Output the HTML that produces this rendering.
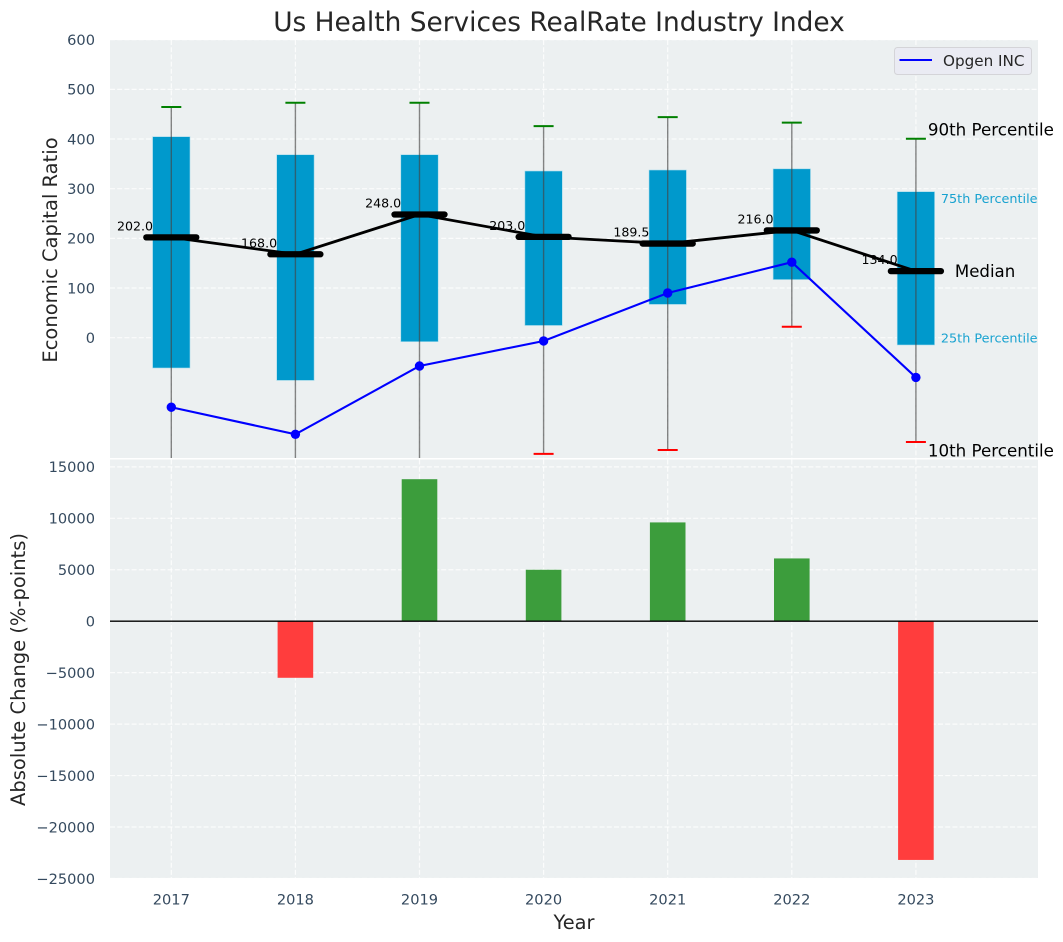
<!DOCTYPE html>
<html lang="en">
<head>
<meta charset="utf-8">
<title>Us Health Services RealRate Industry Index</title>
<style>
html,body{margin:0;padding:0;background:#fff;}
#chart{display:block;width:1063px;height:942px;}
text{font-family:"DejaVu Sans","Liberation Sans",sans-serif;}
</style>
</head>
<body>
<svg id="chart" xmlns="http://www.w3.org/2000/svg" width="1063" height="942" viewBox="0 0 1063 942"></svg>
<script>
const years = [2017, 2018, 2019, 2020, 2021, 2022, 2023];
const p90 = [464.5, 473, 473, 426, 444, 433, 400.6];
const p75 = [404.7, 368.4, 368.4, 335.6, 337.6, 340, 294];
const medians = [202, 168, 248, 203, 189.5, 216, 134];
const p25 = [-61, -86, -8, 24.6, 67, 117, -14.7];
const p10 = [-290, -290, -290, -234, -226, 22, -210];
const opgen = [-140, -194.5, -57, -6.6, 90, 152, -80];
const changes = [0, -5500, 13800, 5000, 9600, 6100, -23200];
const topTicks = [0, 100, 200, 300, 400, 500, 600];
const bottomTicks = [-25000, -20000, -15000, -10000, -5000, 0, 5000, 10000, 15000];

const svg = document.getElementById('chart');
const NS = 'http://www.w3.org/2000/svg';
const LEFT = 110, RIGHT = 1038;
const TOP1 = 40, BOT1 = 458, TOP2 = 459.5, BOT2 = 878;
const x = v => 171.3 + (v - 2017) * 124.1;
const y1 = v => 337.7 - v * 0.4967;
const y2 = v => 621.2 - v * 0.01029;

function el(tag, attrs, parent) {
  const n = document.createElementNS(NS, tag);
  for (const k in attrs) n.setAttribute(k, attrs[k]);
  (parent || svg).appendChild(n);
  return n;
}
function label(txt, attrs, parent) {
  const n = el('text', attrs, parent);
  n.textContent = txt;
  return n;
}

const defs = el('defs', {});
const cp1 = el('clipPath', {id: 'clip-top'}, defs);
el('rect', {x: LEFT, y: TOP1, width: RIGHT - LEFT, height: BOT1 - TOP1}, cp1);
const cp2 = el('clipPath', {id: 'clip-bottom'}, defs);
el('rect', {x: LEFT, y: TOP2, width: RIGHT - LEFT, height: BOT2 - TOP2}, cp2);

const bg1 = el('rect', {x: LEFT, y: TOP1, width: RIGHT - LEFT, height: BOT1 - TOP1, fill: '#ecf0f1'});


const bg2 = el('rect', {x: LEFT, y: TOP2, width: RIGHT - LEFT, height: BOT2 - TOP2, fill: '#ecf0f1'});



const gridStyle = {stroke: '#ffffff', 'stroke-width': 1.2, 'stroke-opacity': 0.8, 'stroke-dasharray': '5 2.2'};

/* upper grid */
const g1 = el('g', {'clip-path': 'url(#clip-top)'});


topTicks.forEach(t => el('line', Object.assign({x1: LEFT, x2: RIGHT, y1: y1(t), y2: y1(t)}, gridStyle), g1));
years.forEach(v => el('line', Object.assign({x1: x(v), x2: x(v), y1: TOP1, y2: BOT1}, gridStyle), g1));

/* lower grid */
const g2 = el('g', {'clip-path': 'url(#clip-bottom)'});


bottomTicks.forEach(t => el('line', Object.assign({x1: LEFT, x2: RIGHT, y1: y2(t), y2: y2(t)}, gridStyle), g2));
years.forEach(v => el('line', Object.assign({x1: x(v), x2: x(v), y1: TOP2, y2: BOT2}, gridStyle), g2));

/* lower bars */
const bars = el('g', {'clip-path': 'url(#clip-bottom)'});


years.forEach((yr, i) => {
  const v = changes[i];
  if (!v) return;
  const yA = y2(Math.max(v, 0)), yB = y2(Math.min(v, 0));
  const r = el('rect', {x: x(yr) - 17.8, width: 35.6, y: yA, height: yB - yA, fill: v >= 0 ? 'rgb(60,157,60)' : 'rgb(255,61,61)'}, bars);
  
  
});
const zero = el('line', {x1: LEFT, x2: RIGHT, y1: y2(0), y2: y2(0), stroke: '#000', 'stroke-width': 1.4});



/* upper marks */
const marks = el('g', {'clip-path': 'url(#clip-top)'});


years.forEach((yr, i) => {
  const cx = x(yr);
  const box = el('rect', {x: cx - 18.7, width: 37.4, y: y1(p75[i]), height: y1(p25[i]) - y1(p75[i]), fill: '#0099cc', stroke: '#a8dcec', 'stroke-width': 0.6}, marks);
  
  
  const wh = el('line', {x1: cx, x2: cx, y1: y1(p90[i]), y2: y1(p10[i]), stroke: '#444', 'stroke-width': 1.4, 'stroke-opacity': 0.65}, marks);
  
  
  const capHi = el('line', {x1: cx - 10, x2: cx + 10, y1: y1(p90[i]), y2: y1(p90[i]), stroke: '#008000', 'stroke-width': 2}, marks);
  
  
  const capLo = el('line', {x1: cx - 10, x2: cx + 10, y1: y1(p10[i]), y2: y1(p10[i]), stroke: '#ff0000', 'stroke-width': 2}, marks);
  
  
});

/* median labels beneath the black line */
years.forEach((yr, i) => {
  const t = label(medians[i].toFixed(1), {x: x(yr) - 18.3, y: y1(medians[i]) - 7, 'text-anchor': 'end', 'font-size': 12.6, fill: '#000'});
  
  
});

/* Opgen line */
const opLine = el('polyline', {points: years.map((yr, i) => x(yr) + ',' + y1(opgen[i])).join(' '), fill: 'none', stroke: '#0000ff', 'stroke-width': 2.1, 'clip-path': 'url(#clip-top)'});


years.forEach((yr, i) => {
  const c = el('circle', {cx: x(yr), cy: y1(opgen[i]), r: 4.7, fill: '#0000ff'});
  
  
});

/* Median line */
const medLine = el('polyline', {points: years.map((yr, i) => x(yr) + ',' + y1(medians[i])).join(' '), fill: 'none', stroke: '#000', 'stroke-width': 2.8});


years.forEach((yr, i) => {
  const m = el('line', {x1: x(yr) - 25, x2: x(yr) + 25, y1: y1(medians[i]), y2: y1(medians[i]), stroke: '#000', 'stroke-width': 6.3, 'stroke-linecap': 'round'});
  
  
});

/* Percentile annotations */
const last = years.length - 1;
const lastX = x(years[last]);
const a90 = label('90th Percentile', {x: lastX + 12, y: y1(p90[last]) - 3, 'font-size': 16.7, fill: '#000'});


const a75 = label('75th Percentile', {x: lastX + 25, y: y1(p75[last]) + 11.3, 'font-size': 12.8, fill: '#0099cc', 'fill-opacity': 0.9});


const aMed = label('Median', {x: lastX + 39, y: y1(medians[last]) + 6, 'font-size': 16.6, fill: '#000'});


const a25 = label('25th Percentile', {x: lastX + 25, y: y1(p25[last]) - 2.6, 'font-size': 12.8, fill: '#0099cc', 'fill-opacity': 0.9});


const a10 = label('10th Percentile', {x: lastX + 12, y: y1(p10[last]) + 14.5, 'font-size': 16.7, fill: '#000'});



/* tick labels */
const tickColor = '#34495e';
topTicks.forEach(t => {
  const n = label(String(t), {x: 95, y: y1(t) + 5.3, 'text-anchor': 'end', 'font-size': 14.6, fill: tickColor});
  
  
});
bottomTicks.forEach(t => {
  const n = label(String(t).replace('-', '\u2212'), {x: 95, y: y2(t) + 5.3, 'text-anchor': 'end', 'font-size': 14.6, fill: tickColor});
  
  
});
years.forEach(yr => {
  const n = label(String(yr), {x: x(yr), y: 904.5, 'text-anchor': 'middle', 'font-size': 14.6, fill: tickColor});
  
  
});

/* titles */
const title = label('Us Health Services RealRate Industry Index', {x: 559, y: 31, 'text-anchor': 'middle', 'font-size': 26.4, fill: '#262626'});


const yt1 = label('Economic Capital Ratio', {transform: 'translate(57,250) rotate(-90)', 'text-anchor': 'middle', 'font-size': 19.5, fill: '#262626'});


const yt2 = label('Absolute Change (%-points)', {transform: 'translate(25,669.5) rotate(-90)', 'text-anchor': 'middle', 'font-size': 19.5, fill: '#262626'});


const xt = label('Year', {x: 574, y: 929, 'text-anchor': 'middle', 'font-size': 19.4, fill: '#262626'});



/* legend */
const legend = el('g', {});


el('rect', {x: 894.5, y: 47.5, width: 137, height: 27, rx: 3, fill: '#eaeaf2', 'fill-opacity': 0.95, stroke: '#d4d4d8', 'stroke-width': 1}, legend);
const legLine = el('line', {x1: 899.5, x2: 932, y1: 60, y2: 60, stroke: '#0000ff', 'stroke-width': 2}, legend);


const legText = label('Opgen INC', {x: 943, y: 66, 'font-size': 15.2, fill: '#262626'}, legend);


</script>
</body>
</html>
